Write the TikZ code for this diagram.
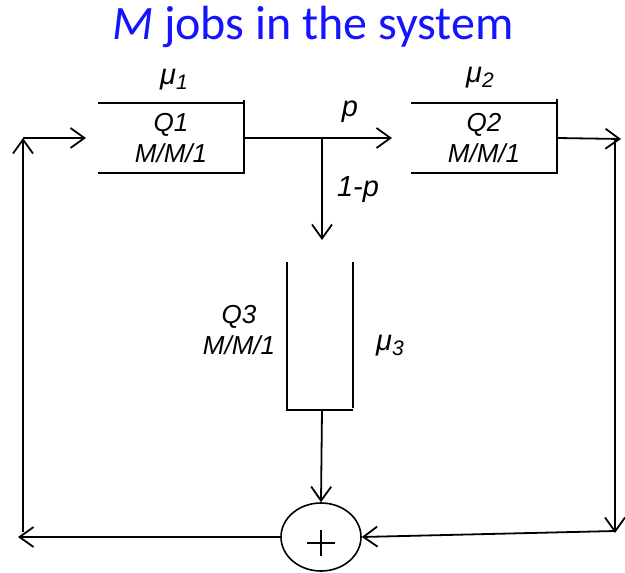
\documentclass[tikz,border=0pt]{standalone}
\usepackage{fontspec}
\setmainfont{Liberation Sans}
\newfontfamily\titlefont{Carlito}
\usetikzlibrary{arrows.meta,shapes.geometric}
\definecolor{titleblue}{RGB}{20,20,255}
\tikzset{
  arr/.style={line width=1.8pt,-{Straight Barb[length=14pt,width=20pt,line width=1.8pt]}},
  wire/.style={line width=1.8pt},
  qbox/.style={rectangle,inner sep=0pt,align=center,font=\fontsize{26}{31}\selectfont\itshape},
  lbl/.style={font=\fontsize{29}{30}\selectfont\itshape,inner sep=0pt},
  plusnode/.style={ellipse,draw,line width=1.6pt,inner sep=0pt,
    path picture={\draw[line width=1.3pt]
      ([xshift=-14pt,yshift=-6pt]path picture bounding box.center) -- ([xshift=14pt,yshift=-6pt]path picture bounding box.center)
      ([yshift=7pt]path picture bounding box.center) -- ([yshift=-19pt]path picture bounding box.center);}},
}
\newcommand{\muof}[1]{μ\raisebox{-0.3ex}{\fontsize{21}{21}\selectfont #1}}
\begin{document}
\begin{tikzpicture}[x=1pt,y=-1pt]
\useasboundingbox (0,0) rectangle (625,573);
% title
\node[font=\titlefont\fontsize{48}{52}\selectfont,text=titleblue,inner sep=0pt] (title) at (313,27) {\textit{M} jobs in the system};
% queues
\node[qbox,minimum width=146pt,minimum height=70pt] (q1) at (171,138) {Q1\\M/M/1};
\node[qbox,minimum width=146pt,minimum height=69pt] (q2) at (484,138) {Q2\\M/M/1};
\node[qbox,minimum width=66pt,minimum height=147pt] (q3) at (320,336) {};
\draw[wire] (q1.north west) -- (q1.north east);
\draw[wire] (q1.south west) -- (q1.south east);
\draw[wire] ([yshift=3pt]q1.north east) -- ([yshift=-1pt]q1.south east);
\draw[wire] (q2.north west) -- (q2.north east);
\draw[wire] (q2.south west) -- (q2.south east);
\draw[wire] ([yshift=4pt]q2.north east) -- ([yshift=-1pt]q2.south east);
\draw[wire] (q3.north west) -- (q3.south west) -- (q3.south east);
\draw[wire] (q3.north east) -- ([yshift=2pt]q3.south east);
% q3 labels
\node[qbox,anchor=center] (q3t) at (239,330) {Q3\\M/M/1};
\node[lbl] (mu3) at (390,346) {\muof{3}};
\node[lbl] (mu1) at (174,80) {\muof{1}};
\node[lbl] (mu2) at (480,78) {\muof{2}};
\node[lbl] (plab) at (350,112) {p};
\node[lbl] (qlab) at (358,190) {1-p};
% summing junction
\node[plusnode,minimum width=80pt,minimum height=68pt] (sum) at (321,537) {};
% coordinates
\coordinate (split) at (322,138);
\coordinate (toq2) at (392,138);
\coordinate (down1) at (322,240);
\coordinate (q3out) at (322,410);
\coordinate (r1) at (621,139);
\coordinate (r2) at (615,139);
\coordinate (r3) at (615,533);
\coordinate (r4) at (615,531);
\coordinate (l1) at (18,537);
\coordinate (l2) at (23,532);
\coordinate (l3) at (23,138);
\coordinate (l4) at (86,138);
% connectors
\draw[arr] (q1.east) -- (toq2);
\draw[arr] (split) -- (down1);
\draw[arr] (q3out) -- (sum.north);
\draw[arr] (q2.east) -- (r1);
\draw[arr] (r2) -- (r3);
\draw[arr] (r4) -- (sum.east);
\draw[arr] (sum.west) -- (l1);
\draw[arr] (l2) -- (l3);
\draw[arr] (l3) -- (l4);
\end{tikzpicture}
\end{document}
